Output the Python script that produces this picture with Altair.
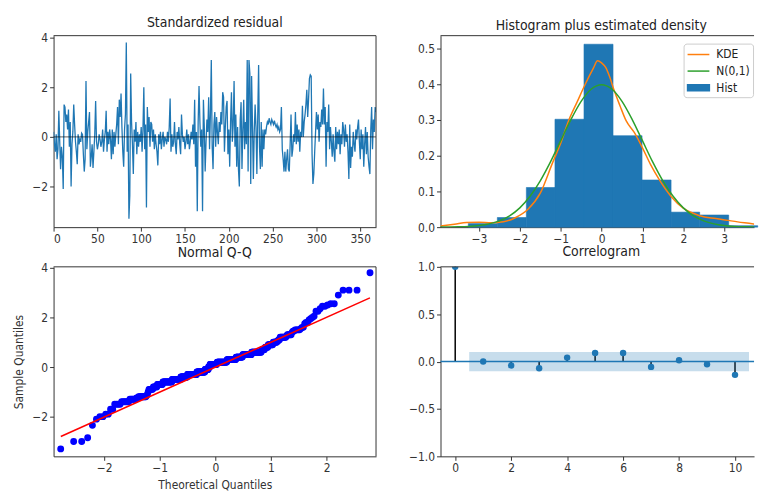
import altair as alt
import pandas as pd

FONT = "DejaVu Sans Condensed, DejaVu Sans"
BLUE = "#1f77b4"
ORANGE = "#ff7f0e"
GREEN = "#2ca02c"
SPINE = "#333333"

# Standardized residuals, one value per time step
residuals = [
    0.2, -0.3, -0.6, 0.1, -0.9, -0.5, 1.05, -0.2, -1.3, -0.4,
    -0.8, -2.1, 1.3, 1.2, 0.6, 0.9, 0.3, 1.1, -0.4, 0.6,
    -2.0, -0.3, 0.2, 1.3, 0.5, -0.2, -0.6, -1.1, 0.1, -0.3,
    -0.1, -0.2, 0.15, 0.1, -0.7, -1.4, -0.9, 2.25, -0.5, 0.2,
    0.6, 1.0, -1.2, -0.8, -0.3, -1.25, -0.6, 0.1, 1.45, -0.2,
    -0.5, -0.3, 0.1, -0.1, -0.4, -0.2, 0.3, -0.6, -0.1, 0.2,
    1.05, -0.6, 0.2, -0.3, 0.3, -0.1, -0.9, 0.3, -0.7, 0.2,
    -0.4, 0.1, 0.5, 1.2, -0.3, 1.5, 0.8, 1.75, 0.4, -0.6,
    -1.2, 0.3, 0.9, 3.8, -0.6, 0.5, -3.3, -2.35, 2.55, 0.6,
    -0.3, -1.5, 0.3, -0.2, 0.6, -0.7, 0.2, -0.4, 0.1, -0.2,
    0.4, -0.6, 0.3, 2.0, -0.5, 0.5, -2.85, 1.2, 0.2, 0.8,
    -0.4, 0.6, 0.5, -0.2, 0.3, -0.5, 0.1, -0.3, -0.6, -1.15,
    0.1, -0.3, 0.2, -0.5, -0.1, 0.2, -0.4, 0.0, -0.1, -0.3,
    0.2, -0.2, 0.4, 1.55, -0.6, 0.1, -0.4, -0.2, 0.6, -0.3,
    -0.7, 0.2, -0.1, 0.4, -0.3, -0.7, 0.9, 0.1, -0.2, 0.0,
    -0.5, -0.2, 0.3, -0.3, 0.1, -0.5, -0.2, 0.2, -0.1, 0.5,
    -0.3, 1.5, -1.2, 0.2, -3.0, 0.6, 2.05, 0.6, -0.4, 0.3,
    -3.0, 1.5, 0.4, -1.4, -0.2, 0.7, 0.2, 1.6, -0.5, 0.9,
    3.1, -0.4, -1.3, 0.5, 1.0, -0.4, 0.8, 0.2, -0.3, 0.6,
    0.2, 1.0, 0.5, 1.8, 1.6, -0.6, 0.4, 1.2, 1.45, -0.7,
    0.3, -1.2, 0.6, 1.8, -0.2, 0.5, 2.25, -0.4, 0.9, -1.2,
    0.4, -1.3, -2.0, 0.7, 1.4, -1.3, 0.3, 1.5, -0.5, 0.6,
    -0.3, 3.1, -1.4, 3.1, 2.55, -1.9, 2.45, 0.5, -1.7, 0.2,
    1.3, 0.4, -1.5, 0.8, 2.9, -0.4, -1.3, 0.6, -1.2, 0.3,
    -0.5, 0.3, 0.1, 0.4, 0.6, 0.5, 0.75, 0.6, 0.5, 0.7,
    0.6, 0.5, 0.65, 0.5, 0.4, 0.5, 0.3, 0.4, 0.2, 0.3,
    1.2, -0.5, -0.9, -1.4, -0.6, -1.4, -0.9, -0.5, -1.3, -1.4,
    -0.3, 0.9, -0.8, -0.5, 0.1, -0.2, 1.0, -0.3, 0.5, -0.2,
    0.3, -0.6, 0.2, 0.0, 1.25, 0.0, 0.6, 0.9, 1.3, 1.9,
    0.8, 1.5, 2.35, 2.5, 2.45, -0.7, -1.9, -1.5, -0.6, 0.2,
    1.0, 0.3, 0.9, -0.2, 0.6, 0.4, 1.1, 0.5, 1.95, 0.5,
    1.2, -1.2, 0.6, 0.2, 1.3, -0.5, 0.4, -0.2, -0.8, 0.1,
    -0.6, -1.0, 0.4, -0.5, 0.2, -0.3, 0.3, -0.7, 0.1, -0.3,
    0.6, 0.3, -0.4, 0.5, -0.2, 0.1, -0.6, -1.7, 0.5, -1.25,
    -0.4, -0.8, 0.2, -0.3, -0.6, 0.3, -0.1, 0.4, 0.7, -0.2,
    -0.9, 0.3, -0.5, 0.1, -1.2, -0.3, 0.4, -0.7, 0.2, -0.8,
    -1.2, -1.5, 0.3, 1.2, -0.5, 0.7, 0.2, 1.2, 1.0,
]

# Histogram (density-normalised)
hist_edges = [-3.26, -2.55, -1.84, -1.14, -0.43, 0.28, 0.99, 1.70, 2.40, 3.11, 3.82]
hist_density = [0.010, 0.027, 0.111, 0.302, 0.512, 0.256, 0.132, 0.042, 0.034, 0.004]

# Kernel density estimate of the residuals
kde_x = [-3.94, -3.6, -3.3, -3.0, -2.7, -2.4, -2.1, -1.8, -1.5, -1.2, -1.0, -0.8,
         -0.6, -0.4, -0.2, -0.1, 0.0, 0.1, 0.2, 0.3, 0.45, 0.6, 0.8, 1.0, 1.2,
         1.4, 1.7, 2.0, 2.4, 2.8, 3.1, 3.5, 3.94]
kde_y = [0.003, 0.008, 0.013, 0.014, 0.012, 0.015, 0.027, 0.05, 0.095, 0.18, 0.235, 0.30,
         0.35, 0.40, 0.445, 0.466, 0.46, 0.447, 0.42, 0.385, 0.34, 0.298, 0.265, 0.222, 0.175,
         0.135, 0.086, 0.053, 0.032, 0.024, 0.019, 0.012, 0.006]

# Standard normal density
norm_x = [-4.0, -3.75, -3.5, -3.25, -3.0, -2.75, -2.5, -2.25, -2.0, -1.75, -1.5, -1.25,
          -1.0, -0.75, -0.5, -0.25, 0.0, 0.25, 0.5, 0.75, 1.0, 1.25, 1.5, 1.75, 2.0,
          2.25, 2.5, 2.75, 3.0, 3.25, 3.5, 3.75, 4.0]
norm_y = [0.0001, 0.0004, 0.0009, 0.0020, 0.0044, 0.0091, 0.0175, 0.0317, 0.0540, 0.0863,
          0.1295, 0.1826, 0.2420, 0.3011, 0.3521, 0.3867, 0.3989, 0.3867, 0.3521, 0.3011,
          0.2420, 0.1826, 0.1295, 0.0863, 0.0540, 0.0317, 0.0175, 0.0091, 0.0044, 0.0020,
          0.0009, 0.0004, 0.0001]

# Reference line of the Q-Q plot
qq_line_x = [-2.78, 2.78]
qq_line_y = [-2.80, 2.79]

# Autocorrelation of the residuals
acf_lags = [0, 1, 2, 3, 4, 5, 6, 7, 8, 9, 10]
acf_values = [1.0, 0.0, -0.042, -0.07, 0.042, 0.09, 0.09, -0.056, 0.014, -0.028, -0.14]
band_lags = [0.5, 10.5]
band_half = [0.102, 0.102]

LW, RW, TH, BH = 325, 316, 193, 191


def title(text, dx=0):
    return alt.TitleParams(text=text, font=FONT, fontSize=14, fontWeight="normal",
                           color="#222222", offset=-9, baseline="alphabetic", dx=dx,
                           frame="group")


def hspine(value, scale, axis):
    return alt.Chart(pd.DataFrame({"v": [value]})).mark_rule(
        color=SPINE, strokeWidth=1).encode(y=alt.Y("v:Q", scale=scale, axis=axis))


def vspine(value, scale, axis):
    return alt.Chart(pd.DataFrame({"v": [value]})).mark_rule(
        color=SPINE, strokeWidth=1).encode(x=alt.X("v:Q", scale=scale, axis=axis))


# --- Standardized residual -------------------------------------------------
resid_df = pd.DataFrame({"t": list(range(len(residuals))), "resid": residuals})
xr = alt.Scale(domain=[0, 368], nice=False, zero=False)
yr = alt.Scale(domain=[-3.64, 4.08], nice=False, zero=False)
xr_axis = alt.Axis(values=[0, 50, 100, 150, 200, 250, 300, 350], format="d", title=None)
yr_axis = alt.Axis(values=[-2, 0, 2, 4], format="d", title=None)

resid_line = alt.Chart(resid_df).mark_line(color=BLUE, strokeWidth=1.3, clip=True).encode(
    x=alt.X("t:Q", scale=xr, axis=xr_axis),
    y=alt.Y("resid:Q", scale=yr, axis=yr_axis),
)
resid_zero = alt.Chart(pd.DataFrame({"v": [0]})).mark_rule(
    color="black", opacity=0.5, strokeWidth=1.2).encode(y=alt.Y("v:Q", scale=yr, axis=yr_axis))

resid_panel = alt.layer(
    resid_line, resid_zero, hspine(4.08, yr, yr_axis), vspine(368, xr, xr_axis)
).properties(width=LW, height=TH, title=title("Standardized residual"))

# --- Histogram plus estimated density --------------------------------------
hist_df = pd.DataFrame({"lo": hist_edges[:-1], "hi": hist_edges[1:], "density": hist_density})
xh = alt.Scale(domain=[-3.94, 3.73], nice=False, zero=False)
yh = alt.Scale(domain=[0, 0.536], nice=False, zero=False)
xh_axis = alt.Axis(values=[-3, -2, -1, 0, 1, 2, 3], format="d", title=None)
yh_axis = alt.Axis(values=[0, 0.1, 0.2, 0.3, 0.4, 0.5], format=".1f", title=None)

bars = alt.Chart(hist_df).mark_rect(color=BLUE, stroke=BLUE, strokeWidth=0.6).encode(
    x=alt.X("lo:Q", scale=xh, axis=xh_axis),
    x2="hi:Q",
    y=alt.Y("density:Q", scale=yh, axis=yh_axis),
    y2=alt.datum(0),
)


def density_line(xs, ys, color):
    return alt.Chart(pd.DataFrame({"x": xs, "y": ys})).mark_line(
        clip=True, interpolate="monotone", color=color, strokeWidth=1.5).encode(
        x=alt.X("x:Q", scale=xh, axis=xh_axis), y=alt.Y("y:Q", scale=yh, axis=yh_axis))


kde_line = density_line(kde_x, kde_y, ORANGE)
norm_line = density_line(norm_x, norm_y, GREEN)

# Legend: short lines for the two curves, a filled patch for the histogram
series_domain = ["KDE", "N(0,1)", "Hist"]
line_glyph = "M-1,0H2.14"
patch_glyph = "M-1,-0.43H2.14V0.43H-1Z"
legend = alt.Legend(
    title=None, orient="none", legendX=635, legendY=8,
    symbolSize=196, symbolStrokeWidth=1.5, labelOffset=14,
    fillColor="rgba(255,255,255,0.85)", strokeColor="#cccccc", cornerRadius=3,
    padding=3, rowPadding=2.7, labelFont=FONT, labelFontSize=12, labelColor="#222222",
)
legend_layer = alt.Chart(pd.DataFrame({"series": series_domain})).transform_filter(
    "false"
).mark_point(filled=False, opacity=1).encode(
    stroke=alt.Stroke("series:N", scale=alt.Scale(domain=series_domain,
                                                  range=[ORANGE, GREEN, BLUE]), legend=legend),
    fill=alt.Fill("series:N", scale=alt.Scale(domain=series_domain,
                                              range=["transparent", "transparent", BLUE]),
                  legend=legend),
    shape=alt.Shape("series:N", scale=alt.Scale(domain=series_domain,
                                                range=[line_glyph, line_glyph, patch_glyph]),
                    legend=legend),
)

hist_panel = alt.layer(bars, kde_line, norm_line, hspine(0.536, yh, yh_axis), legend_layer).properties(
    width=RW, height=TH, title=title("Histogram plus estimated density", dx=4))

# --- Normal Q-Q ------------------------------------------------------------
xq = alt.Scale(domain=[-2.91, 2.89], nice=False, zero=False)
yq = alt.Scale(domain=[-3.6, 4.04], nice=False, zero=False)
xq_axis = alt.Axis(values=[-2, -1, 0, 1, 2], format="d", title="Theoretical Quantiles")
yq_axis = alt.Axis(values=[-2, 0, 2, 4], format="d", title="Sample Quantiles")

qq_points = alt.Chart(resid_df).transform_window(
    rank="row_number()", sort=[alt.SortField("resid", order="ascending")]
).transform_joinaggregate(
    n="count()"
).transform_calculate(
    theoretical="quantileNormal(datum.rank / (datum.n + 1))"
).mark_circle(size=48, color="#0000ff", opacity=1).encode(
    x=alt.X("theoretical:Q", scale=xq, axis=xq_axis),
    y=alt.Y("resid:Q", scale=yq, axis=yq_axis),
)
qq_line = alt.Chart(pd.DataFrame({"x": qq_line_x, "y": qq_line_y})).mark_line(
    color="#ff0000", strokeWidth=1.5).encode(
    x=alt.X("x:Q", scale=xq, axis=xq_axis), y=alt.Y("y:Q", scale=yq, axis=yq_axis))

qq_panel = alt.layer(
    qq_points, qq_line, hspine(4.04, yq, yq_axis), vspine(2.89, xq, xq_axis)
).properties(width=LW, height=BH, title=title("Normal Q-Q"))

# --- Correlogram -----------------------------------------------------------
acf_df = pd.DataFrame({"lag": acf_lags, "acf": acf_values})
band_df = pd.DataFrame({"lag": band_lags, "hi": band_half, "lo": [-v for v in band_half]})
xc = alt.Scale(domain=[-0.525, 10.68], nice=False, zero=False)
yc = alt.Scale(domain=[-1, 1], nice=False, zero=False)
xc_axis = alt.Axis(values=[0, 2, 4, 6, 8, 10], format="d", title=None)
yc_axis = alt.Axis(values=[-1, -0.5, 0, 0.5, 1], format=".1f", title=None)

stems = alt.Chart(acf_df).mark_rule(color="black", strokeWidth=1.5).encode(
    x=alt.X("lag:Q", scale=xc, axis=xc_axis),
    y=alt.Y("acf:Q", scale=yc, axis=yc_axis),
    y2=alt.datum(0),
)
acf_zero = alt.Chart(pd.DataFrame({"v": [0]})).mark_rule(color=BLUE, strokeWidth=1.5).encode(
    y=alt.Y("v:Q", scale=yc, axis=yc_axis))
dots = alt.Chart(acf_df).mark_circle(size=42, color=BLUE, opacity=1, clip=True).encode(
    x=alt.X("lag:Q", scale=xc, axis=xc_axis), y=alt.Y("acf:Q", scale=yc, axis=yc_axis))
band = alt.Chart(band_df).mark_area(color=BLUE, opacity=0.25).encode(
    x=alt.X("lag:Q", scale=xc, axis=xc_axis),
    y=alt.Y("lo:Q", scale=yc, axis=yc_axis),
    y2="hi:Q",
)

acf_panel = alt.layer(stems, acf_zero, dots, band, hspine(1, yc, yc_axis)).properties(
    width=RW, height=BH, title=title("Correlogram", dx=4))

chart = alt.concat(
    resid_panel, hist_panel, qq_panel, acf_panel,
    columns=2, spacing=alt.RowColnumber(row=40, column=65), bounds="flush",
).properties(
    padding={"left": 13, "top": 14, "right": 0, "bottom": 0},
    background="white",
).configure_view(
    stroke=None,
).configure_axis(
    grid=False, domainColor=SPINE, domainWidth=1, tickColor=SPINE, tickSize=4,
    labelColor="#333333", labelFont=FONT, labelFontSize=12, labelPadding=2,
    titleColor="#333333", titleFont=FONT, titleFontSize=12, titleFontWeight="normal",
    titlePadding=6,
)

chart.save("out.html", embed_options={"renderer": "svg", "actions": False})
